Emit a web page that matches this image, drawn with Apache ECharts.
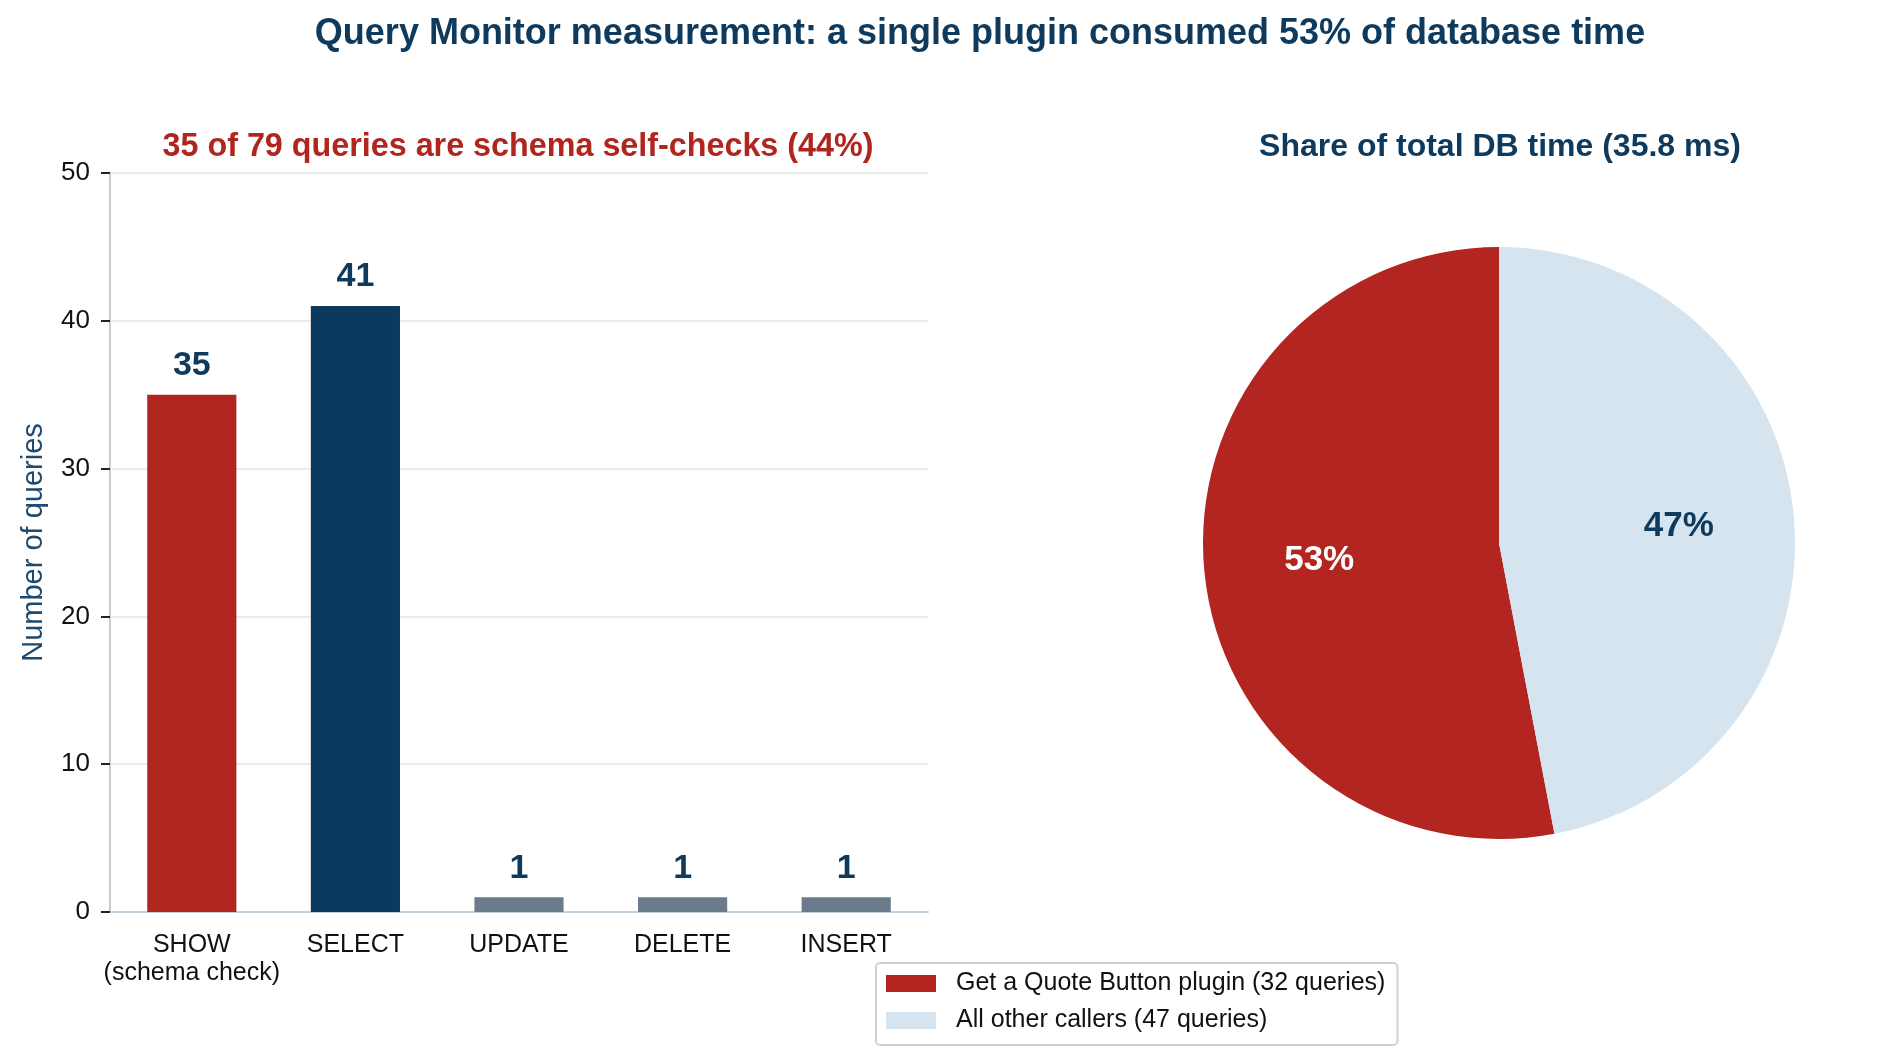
<!DOCTYPE html>
<html>
<head>
<meta charset="utf-8">
<title>Query Monitor measurement</title>
<style>
html,body{margin:0;padding:0;width:100%;height:100%;background:#fff;}
#main{width:1888px;height:1061px;}
</style>
<script src="https://cdn.jsdelivr.net/npm/echarts@6/dist/echarts.min.js"></script>
</head>
<body>
<div id="main"></div>
<script>
// query counts by type
var queryTypes = ['SHOW\n(schema check)', 'SELECT', 'UPDATE', 'DELETE', 'INSERT'];
var queryCounts = [35, 41, 1, 1, 1];
var barColors = ['#b22622', '#0b3a5e', '#6b7b8c', '#6b7b8c', '#6b7b8c'];

// share of DB time (%)
var callerNames = ['Get a Quote Button plugin (32 queries)', 'All other callers (47 queries)'];
var timeShare = [53, 47];
var pieColors = ['#b22520', '#d6e4ef'];
var pieLabelColors = ['#ffffff', '#0e3a5d'];

var FONT = "'Liberation Sans', Arial, sans-serif";
var NAVY = '#0e3a5d';
var PIE_C = [1499, 543];
var PIE_R = 296;

var myChart = echarts.init(document.getElementById('main'));

var pieData = callerNames.map(function (n, i) {
    return { name: n, value: timeShare[i], itemStyle: { color: pieColors[i] } };
});
var pieLabelData = callerNames.map(function (n, i) {
    return { name: n, value: timeShare[i], label: { color: pieLabelColors[i] } };
});

var option = {
    backgroundColor: '#fff',
    textStyle: { fontFamily: FONT },
    animation: false,
    title: [
        {
            text: 'Query Monitor measurement: a single plugin consumed 53% of database time',
            left: 980, top: 16, padding: 0, textAlign: 'center',
            textStyle: { fontSize: 36, fontWeight: 'bold', color: NAVY, fontFamily: FONT }
        },
        {
            text: '35 of 79 queries are schema self-checks (44%)',
            left: 518, top: 131, padding: 0, textAlign: 'center',
            textStyle: { fontSize: 32.3, fontWeight: 'bold', color: '#b0261f', fontFamily: FONT }
        },
        {
            text: 'Share of total DB time (35.8 ms)',
            left: 1500, top: 131, padding: 0, textAlign: 'center',
            textStyle: { fontSize: 32, fontWeight: 'bold', color: NAVY, fontFamily: FONT }
        }
    ],
    legend: {
        orient: 'vertical',
        left: 876, top: 963,
        data: callerNames,
        itemWidth: 50, itemHeight: 17, itemGap: 12,
        padding: [8, 12, 12, 10],
        borderColor: '#cfd3d8', borderWidth: 2, borderRadius: 4,
        icon: 'rect',
        textStyle: { fontSize: 25, color: '#111', fontFamily: FONT, padding: [0, 0, 0, 15] },
        selectedMode: false
    },
    grid: { left: 110, right: 960, top: 173, bottom: 149, containLabel: false },
    xAxis: {
        type: 'category',
        data: queryTypes,
        axisLine: { lineStyle: { color: '#c5d2de', width: 2 } },
        axisTick: { alignWithLabel: true, length: 9, lineStyle: { color: '#222', width: 2 } },
        axisLabel: { fontSize: 25, color: '#111', lineHeight: 28, margin: 19, interval: 0 }
    },
    yAxis: {
        type: 'value',
        min: 0, max: 50, interval: 10,
        name: 'Number of queries',
        nameLocation: 'middle', nameGap: 62, nameRotate: 90,
        nameTextStyle: { fontSize: 29, color: '#1d4a6e' },
        axisLine: { show: true, lineStyle: { color: '#c8ccd2', width: 2 } },
        axisTick: { show: true, length: 9, lineStyle: { color: '#222', width: 2 } },
        axisLabel: { fontSize: 26, color: '#111', margin: 20 },
        splitLine: { lineStyle: { color: '#e8ebef', width: 2 } }
    },
    series: [
        {
            type: 'bar',
            data: queryCounts,
            barWidth: '54.5%',
            itemStyle: {
                color: function (p) { return barColors[p.dataIndex]; }
            },
            label: {
                show: true, position: 'top', distance: 12,
                fontSize: 34, fontWeight: 'bold', color: NAVY
            }
        },
        {
            type: 'pie',
            center: PIE_C,
            radius: [0, PIE_R],
            startAngle: 90,
            clockwise: false,
            data: pieData,
            label: { show: false },
            labelLine: { show: false },
            emphasis: { disabled: true }
        },
        {
            // label ring: puts labels at 0.6 of the radius
            type: 'pie',
            center: PIE_C,
            radius: [PIE_R * 0.2, PIE_R],
            startAngle: 90,
            clockwise: false,
            silent: true,
            data: pieLabelData,
            itemStyle: { color: 'transparent' },
            label: {
                show: true, position: 'inside',
                formatter: '{c}%',
                fontSize: 35, fontWeight: 'bold'
            },
            labelLine: { show: false }
        }
    ]
};

myChart.setOption(option);
</script>
</body>
</html>
